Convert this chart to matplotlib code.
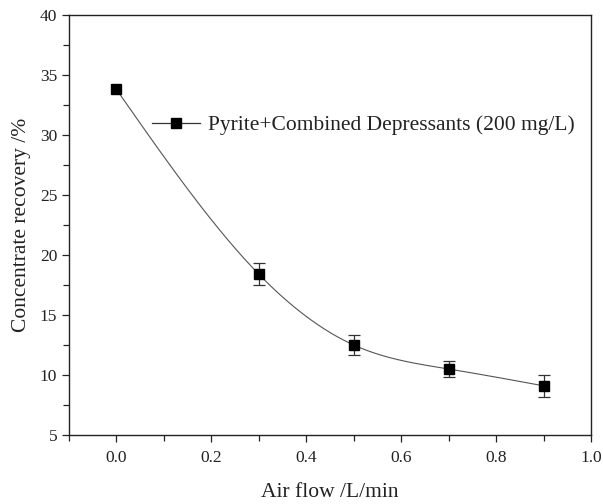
import numpy as np
import matplotlib
matplotlib.use("Agg")
import matplotlib.pyplot as plt
from matplotlib.ticker import MultipleLocator
from matplotlib.lines import Line2D

# Data
air_flow = [0.0, 0.3, 0.5, 0.7, 0.9]
recovery = [33.8, 18.4, 12.5, 10.5, 9.1]
recovery_err = [0.0, 0.9, 0.8, 0.7, 0.9]
series_label = "Pyrite+Combined Depressants (200 mg/L)"
x_label = "Air flow /L/min"
y_label = "Concentrate recovery /%"


def natural_cubic_spline(x, y, xs):
    x = np.asarray(x, float)
    y = np.asarray(y, float)
    n = len(x)
    h = np.diff(x)
    A = np.zeros((n, n))
    b = np.zeros(n)
    A[0, 0] = 1
    A[-1, -1] = 1
    for i in range(1, n - 1):
        A[i, i - 1] = h[i - 1]
        A[i, i] = 2 * (h[i - 1] + h[i])
        A[i, i + 1] = h[i]
        b[i] = 3 * ((y[i + 1] - y[i]) / h[i] - (y[i] - y[i - 1]) / h[i - 1])
    c = np.linalg.solve(A, b)
    out = np.empty_like(xs)
    for k, xv in enumerate(xs):
        i = min(max(np.searchsorted(x, xv) - 1, 0), n - 2)
        dx = xv - x[i]
        bi = (y[i + 1] - y[i]) / h[i] - h[i] * (2 * c[i] + c[i + 1]) / 3
        di = (c[i + 1] - c[i]) / (3 * h[i])
        out[k] = y[i] + bi * dx + c[i] * dx ** 2 + di * dx ** 3
    return out


plt.rcParams['font.family'] = ['Liberation Serif', 'DejaVu Serif']
plt.rcParams['mathtext.fontset'] = 'stix'

fig = plt.figure(figsize=(6.03, 5.04), dpi=100)
ax = fig.add_axes([0.1144, 0.1369, 0.8657, 0.8333])

xs = np.linspace(air_flow[0], air_flow[-1], 300)
ax.plot(xs, natural_cubic_spline(air_flow, recovery, xs), color='#555555', lw=0.8, zorder=2)

ex = [x for x, e in zip(air_flow, recovery_err) if e > 0]
ey = [y for y, e in zip(recovery, recovery_err) if e > 0]
ee = [e for e in recovery_err if e > 0]
ax.errorbar(ex, ey, yerr=ee, fmt='none', ecolor='#333333',
            elinewidth=0.9, capsize=4.5, capthick=0.9, zorder=3)
ax.plot(air_flow, recovery, 's', color='black', ms=6.5, zorder=4)

ax.set_xlim(-0.1, 1.0)
ax.set_ylim(5, 40)
ax.xaxis.set_minor_locator(MultipleLocator(0.1))
ax.yaxis.set_major_locator(MultipleLocator(5))
ax.yaxis.set_minor_locator(MultipleLocator(2.5))
ticks = np.arange(0.0, 1.01, 0.2)
ax.set_xticks(ticks)
ax.set_xticklabels([f"{v:.1f}" for v in ticks])
ax.tick_params(which='both', direction='out', top=False, right=False,
               width=0.9, labelsize=12.5, colors='#222222')
ax.tick_params(which='major', length=5)
ax.tick_params(which='minor', length=4)
ax.tick_params(axis='x', which='major', pad=6)
for s in ax.spines.values():
    s.set_linewidth(1.0)
    s.set_color('#222222')

ax.set_xlabel(x_label, fontsize=15.5, labelpad=12, color='#222222')
ax.set_ylabel(y_label, fontsize=15.5, labelpad=6, color='#222222')

handle = Line2D([], [], color='#333333', lw=0.9, marker='s', ms=6.5,
                markerfacecolor='black', markeredgecolor='black')
ax.legend([handle], [series_label], loc='center left', bbox_to_anchor=(0.159, 0.738),
          frameon=False, fontsize=15.5, handlelength=2.25, handletextpad=0.33,
          borderpad=0, borderaxespad=0, labelcolor='#222222')

fig.savefig("out.png", dpi=100)
